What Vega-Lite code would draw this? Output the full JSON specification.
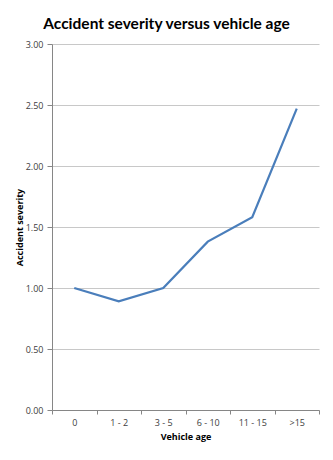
{
  "$schema": "https://vega.github.io/schema/vega-lite/v6.json",
  "width": 267,
  "height": 366,
  "autosize": {"type": "none"},
  "padding": {"left": 52, "top": 44, "right": 14, "bottom": 50},
  "background": "white",
  "title": {
    "text": "Accident severity versus vehicle age",
    "font": "Lato",
    "fontSize": 15.5,
    "fontWeight": "bold",
    "color": "#000000",
    "anchor": "middle",
    "dx": -19,
    "offset": 8
  },
  "data": {
    "values": [
      {"age": "0", "severity": 1.0},
      {"age": "1 - 2", "severity": 0.89},
      {"age": "3 - 5", "severity": 1.0},
      {"age": "6 - 10", "severity": 1.38},
      {"age": "11 - 15", "severity": 1.58},
      {"age": ">15", "severity": 2.47}
    ]
  },
  "mark": {"type": "line", "color": "#4A7EBB", "strokeWidth": 2.2},
  "encoding": {
    "x": {
      "field": "age",
      "type": "ordinal",
      "sort": null,
      "bandPosition": 0.5,
      "scale": {"type": "band", "paddingInner": 0, "paddingOuter": 0},
      "axis": {
        "title": "Vehicle age",
        "labelAngle": 0,
        "tickBand": "extent",
        "grid": false,
        "domainColor": "#868686",
        "tickColor": "#868686",
        "tickSize": 4,
        "labelFont": "Open Sans",
        "labelFontSize": 9,
        "labelColor": "#404040",
        "labelPadding": 4,
        "titleFont": "Open Sans",
        "titleFontSize": 9,
        "titleFontWeight": "bold",
        "titleColor": "#000000",
        "titlePadding": 5
      }
    },
    "y": {
      "field": "severity",
      "type": "quantitative",
      "scale": {"domain": [0, 3]},
      "axis": {
        "title": "Accident severity",
        "values": [0, 0.5, 1, 1.5, 2, 2.5, 3],
        "format": ".2f",
        "grid": true,
        "gridColor": "#C8C8C8",
        "domainColor": "#868686",
        "tickColor": "#868686",
        "tickSize": 5,
        "labelFont": "Open Sans",
        "labelFontSize": 9,
        "labelColor": "#404040",
        "labelPadding": 4,
        "titleFont": "Open Sans",
        "titleFontSize": 9,
        "titleFontWeight": "bold",
        "titleColor": "#000000",
        "titlePadding": 1
      }
    }
  },
  "config": {"view": {"stroke": null}}
}
